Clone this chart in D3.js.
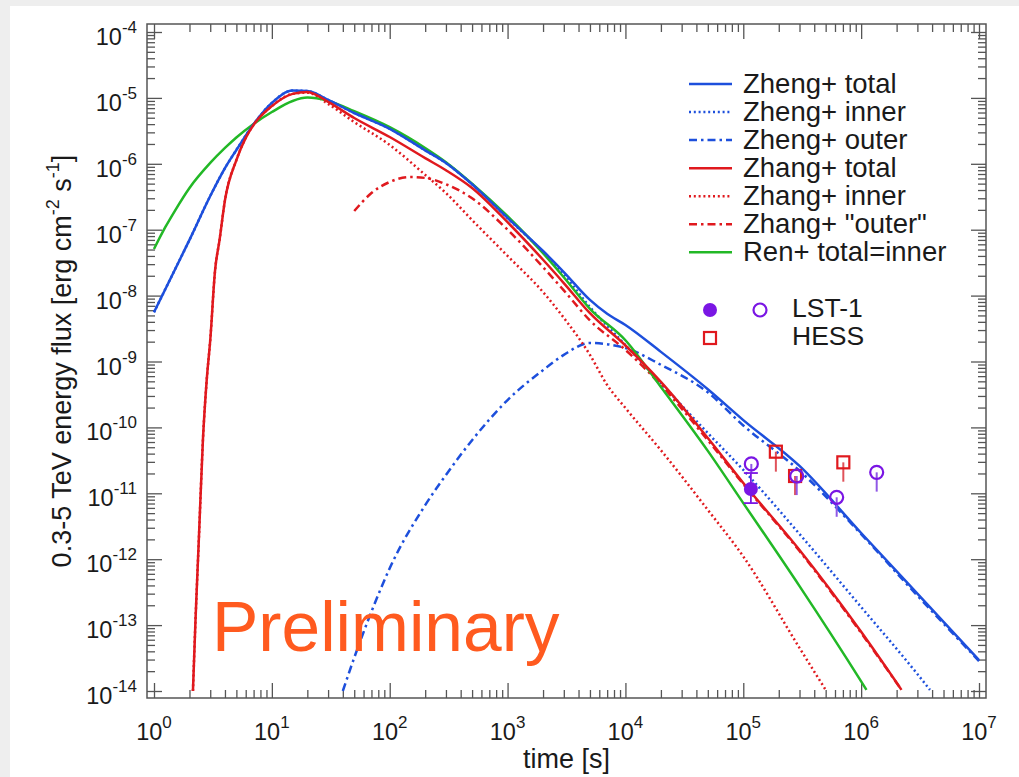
<!DOCTYPE html>
<html lang="en">
<head>
<meta charset="utf-8">
<title>TeV energy flux</title>
<style>
  body { margin: 0; background: #eeeeee; }
  svg { display: block; }
  text { font-family: "Liberation Sans", Arial, sans-serif; fill: #1a1a1a; }
</style>
</head>
<body>
<svg id="chart" width="1019" height="777"></svg>
<script src="https://d3js.org/d3.v7.min.js"></script>
<script>
// model curves, [time s, flux erg cm^-2 s^-1]
const zhengTotal = [[1,5.6e-9],[1.5,2.45e-8],[2,7e-8],[3,3.24e-7],[4,8.6e-7],[5,1.62e-6],[7,4.0e-6],[10,8.4e-6],[15,1.29e-5],[20,1.27e-5],[30,9.3e-6],[50,5.9e-6],[100,3.4e-6],[200,1.6e-6],[300,1.03e-6],[500,4.9e-7],[1e3,1.51e-7],[2e3,4.75e-8],[3e3,2.28e-8],[5e3,8.6e-9],[7e3,5.3e-9],[1e4,3.58e-9],[2e4,1.4e-9],[5e4,3.8e-10],[1e5,1.29e-10],[3e5,2.6e-11],[1e6,2.5e-12],[3e6,3e-13],[1e7,2.95e-14]]
const zhengInner = [[1,5.6e-9],[1.5,2.45e-8],[2,7e-8],[3,3.24e-7],[4,8.6e-7],[5,1.62e-6],[7,4.0e-6],[10,8.4e-6],[15,1.29e-5],[20,1.27e-5],[30,9.3e-6],[50,5.9e-6],[100,3.4e-6],[200,1.6e-6],[300,1.03e-6],[500,4.9e-7],[1e3,1.5e-7],[2e3,4.6e-8],[3e3,2.1e-8],[5e3,6.7e-9],[1e4,1.78e-9],[2e4,4.7e-10],[5e4,8.2e-11],[1e5,2.26e-11],[3e5,2.41e-12],[1e6,1.88e-13],[3e6,1.81e-14],[3.84e6,1.04e-14]]
const zhengOuter = [[40,1e-14],[50,3.2e-14],[70,1.6e-13],[100,7.3e-13],[200,6.6e-12],[300,1.9e-11],[500,6.4e-11],[1e3,2.6e-10],[2e3,7.4e-10],[3e3,1.26e-9],[5e3,1.91e-9],[1e4,1.6e-9],[2e4,8.9e-10],[5e4,3.4e-10],[1e5,1.07e-10],[3e5,2.2e-11],[1e6,2.4e-12],[3e6,2.8e-13],[1e7,2.85e-14]]
const zhangTotal = [[2.14,1e-14],[2.25,1.2e-13],[2.4,1.95e-12],[2.6,6.4e-11],[2.8,5.2e-10],[3,2.1e-9],[3.3,2.45e-8],[3.6,7e-8],[4,2.8e-7],[5,1.14e-6],[6,2.47e-6],[7,3.9e-6],[10,7.5e-6],[15,1.15e-5],[20,1.23e-5],[30,8.7e-6],[50,4.95e-6],[100,2.55e-6],[200,1.22e-6],[300,8e-7],[500,4.3e-7],[1e3,1.3e-7],[2e3,3.5e-8],[3e3,1.55e-8],[5e3,5.4e-9],[1e4,1.75e-9],[2e4,4.9e-10],[5e4,6.9e-11],[1e5,1.43e-11],[3e5,1.38e-12],[1e6,7.9e-14],[2.2e6,1.04e-14]]
const zhangInner = [[2.14,1e-14],[2.25,1.2e-13],[2.4,1.95e-12],[2.6,6.4e-11],[2.8,5.2e-10],[3,2.1e-9],[3.3,2.45e-8],[3.6,7e-8],[4,2.8e-7],[5,1.14e-6],[6,2.47e-6],[7,3.9e-6],[10,7.5e-6],[15,1.15e-5],[20,1.2e-5],[30,8.1e-6],[50,4.3e-6],[100,1.93e-6],[200,6.8e-7],[300,3.6e-7],[500,1.4e-7],[1e3,4e-8],[2e3,1.13e-8],[3e3,4.6e-9],[5e3,1.26e-9],[7e3,4.4e-10],[1e4,1.97e-10],[2e4,4.5e-11],[5e4,5.6e-12],[1e5,1.1e-12],[3e5,4.5e-14],[5e5,1.04e-14]]
const zhangOuter = [[50,1.92e-7],[70,3.6e-7],[100,5.3e-7],[150,6.3e-7],[200,6.1e-7],[300,4.9e-7],[500,3.0e-7],[1e3,1.0e-7],[2e3,2.7e-8],[3e3,1.2e-8],[5e3,4.2e-9],[1e4,1.5e-9],[2e4,4.4e-10],[5e4,6.4e-11],[1e5,1.38e-11],[3e5,1.33e-12],[1e6,7.6e-14],[2.2e6,1.04e-14]]
const renTotal = [[1,5.1e-8],[1.25,1.1e-7],[1.5,1.92e-7],[2,4.3e-7],[3,1.03e-6],[4,1.74e-6],[5,2.51e-6],[7,4.02e-6],[10,6.1e-6],[15,8.97e-6],[20,1.01e-5],[30,9e-6],[50,6.3e-6],[100,3.6e-6],[200,1.74e-6],[300,1.06e-6],[500,5.0e-7],[1e3,1.6e-7],[2e3,4.4e-8],[3e3,1.9e-8],[5e3,6.3e-9],[1e4,2.1e-9],[2e4,4.1e-10],[5e4,4.4e-11],[1e5,7.1e-12],[3e5,3.9e-13],[1e6,1.4e-14],[1.11e6,1.04e-14]]

// observations
const lstFilledT = [1.16e5], lstFilledF = [1.16e-11], lstFilledLo = [7.1e-12], lstFilledHi = [2.03e-11]
const lstOpenT = [1.17e5, 2.84e5, 6.2e5, 1.355e6]
const lstOpenF = [2.79e-11, 1.83e-11, 8.7e-12, 2.08e-11]
const lstOpenLo = [2.03e-11, 9.4e-12, 4.4e-12, 1.06e-11]
const hessT = [1.89e5, 2.75e5, 7.06e5]
const hessF = [4.28e-11, 1.83e-11, 2.95e-11]
const hessLo = [2.13e-11, 9.4e-12, 1.5e-11]

const xExps = [0,1,2,3,4,5,6,7]
const yExps = [-4,-5,-6,-7,-8,-9,-10,-11,-12,-13,-14]

const BLUE = "#1d4fdc", RED = "#e0191e", GREEN = "#22b826", PURPLE = "#7a16e4"
const DOT = "2,2.8", DASHDOT = "8,4,2.5,4"

const series = [
  {name: "Zheng+ total", data: zhengTotal, color: BLUE, dash: null},
  {name: "Zheng+ inner", data: zhengInner, color: BLUE, dash: DOT},
  {name: "Zheng+ outer", data: zhengOuter, color: BLUE, dash: DASHDOT},
  {name: "Zhang+ total", data: zhangTotal, color: RED, dash: null},
  {name: "Zhang+ inner", data: zhangInner, color: RED, dash: DOT},
  {name: "Zhang+ \"outer\"", data: zhangOuter, color: RED, dash: DASHDOT},
  {name: "Ren+ total=inner", data: renTotal, color: GREEN, dash: null}
]

const svg = d3.select("#chart")
svg.append("rect").attr("width", 1019).attr("height", 777).attr("fill", "#eeeeee")
svg.append("rect").attr("x", 10).attr("y", 6).attr("width", 1009).attr("height", 771).attr("fill", "#fff")

const x = d3.scaleLog().domain([1, 1e7]).range([154, 979])
const y = d3.scaleLog().domain([1e-14, 1e-4]).range([691, 32])
const frame = {left: 147, right: 986, top: 24, bottom: 698}

function minorTicks(lo, hi) {
    let out = []
    for (let e = lo; e < hi; e++)
        for (let k = 2; k <= 9; k++) out.push(k * Math.pow(10, e))
    return out
}
const xMajor = xExps.map(e => Math.pow(10, e))
const yMajor = yExps.map(e => Math.pow(10, e))

function tickSet(axisFn, scale, values, size, tx, ty) {
    svg.append("g")
        .attr("transform", `translate(${tx},${ty})`)
        .call(axisFn(scale).tickValues(values).tickSize(-size).tickFormat(""))
        .call(g => g.select(".domain").remove())
        .selectAll("line").attr("stroke", "#555").attr("stroke-width", 1.3)
}
tickSet(d3.axisBottom, x, xMajor, 15, 0, frame.bottom)
tickSet(d3.axisBottom, x, minorTicks(0, 7), 8, 0, frame.bottom)
tickSet(d3.axisTop, x, xMajor, 15, 0, frame.top)
tickSet(d3.axisTop, x, minorTicks(0, 7), 8, 0, frame.top)
tickSet(d3.axisLeft, y, yMajor, 15, frame.left, 0)
tickSet(d3.axisLeft, y, minorTicks(-14, -4), 8, frame.left, 0)
tickSet(d3.axisRight, y, yMajor, 15, frame.right, 0)
tickSet(d3.axisRight, y, minorTicks(-14, -4), 8, frame.right, 0)

svg.append("rect")
    .attr("x", frame.left).attr("y", frame.top)
    .attr("width", frame.right - frame.left).attr("height", frame.bottom - frame.top)
    .attr("fill", "none").attr("stroke", "#555").attr("stroke-width", 1.5)

// tick labels
xExps.forEach(e => {
    let t = svg.append("text").attr("x", x(Math.pow(10, e))).attr("y", 740)
        .attr("text-anchor", "middle").attr("font-size", 23.5)
    t.append("tspan").text("10")
    t.append("tspan").attr("dy", -12).attr("font-size", 17).text(e)
})
yExps.forEach(e => {
    let t = svg.append("text").attr("x", 137).attr("y", y(Math.pow(10, e)) + 13)
        .attr("text-anchor", "end").attr("font-size", 23.5)
    t.append("tspan").text("10")
    t.append("tspan").attr("dy", -12).attr("font-size", 17).text(e)
})

// axis titles
svg.append("text").attr("x", (frame.left + frame.right) / 2).attr("y", 768)
    .attr("text-anchor", "middle").attr("font-size", 27).text("time [s]")
let yt = svg.append("text").attr("transform", `translate(71,${(frame.top + frame.bottom) / 2}) rotate(-90)`)
    .attr("text-anchor", "middle").attr("font-size", 27)
yt.append("tspan").text("0.3-5 TeV energy flux [erg cm")
yt.append("tspan").attr("dy", -12).attr("font-size", 18).text("-2")
yt.append("tspan").attr("dy", 12).text(" s")
yt.append("tspan").attr("dy", -12).attr("font-size", 18).text("-1")
yt.append("tspan").attr("dy", 12).text("]")

// curves
svg.append("clipPath").attr("id", "plotclip").append("rect")
    .attr("x", frame.left).attr("y", frame.top)
    .attr("width", frame.right - frame.left).attr("height", frame.bottom - frame.top)
const line = d3.line().x(d => x(d[0])).y(d => y(d[1])).curve(d3.curveMonotoneX)
const drawOrder = [2, 1, 5, 4, 6, 0, 3]
drawOrder.forEach(i => {
    let s = series[i]
    svg.append("path").datum(s.data)
        .attr("clip-path", "url(#plotclip)")
        .attr("d", line)
        .attr("fill", "none")
        .attr("stroke", s.color)
        .attr("stroke-width", 2.5)
        .attr("stroke-dasharray", s.dash)
})

// watermark
svg.append("text").attr("x", 212).attr("y", 651)
    .attr("font-family", "'Open Sans', 'Noto Sans', sans-serif")
    .attr("font-size", 69.5).style("fill", "#ff5a1f").text("Preliminary")

// observations
hessT.forEach((t, i) => {
    svg.append("line").attr("x1", x(t)).attr("x2", x(t))
        .attr("y1", y(hessF[i])).attr("y2", y(hessLo[i]))
        .attr("stroke", "#e0525a").attr("stroke-width", 2)
})
lstOpenT.forEach((t, i) => {
    svg.append("line").attr("x1", x(t)).attr("x2", x(t))
        .attr("y1", y(lstOpenF[i])).attr("y2", y(lstOpenLo[i]))
        .attr("stroke", "#9058e6").attr("stroke-width", 2)
})
lstFilledT.forEach((t, i) => {
    let g = svg.append("g").attr("stroke", PURPLE).attr("stroke-width", 1.8)
    g.append("line").attr("x1", x(t)).attr("x2", x(t)).attr("y1", y(lstFilledHi[i])).attr("y2", y(lstFilledLo[i]))
    ;[lstFilledHi[i], lstFilledLo[i]].forEach(v => {
        g.append("line").attr("x1", x(t) - 7).attr("x2", x(t) + 7).attr("y1", y(v)).attr("y2", y(v))
    })
    svg.append("circle").attr("cx", x(t)).attr("cy", y(lstFilledF[i])).attr("r", 7).attr("fill", PURPLE)
})
hessT.forEach((t, i) => {
    svg.append("rect").attr("x", x(t) - 6).attr("y", y(hessF[i]) - 6).attr("width", 12).attr("height", 12)
        .attr("fill", "none").attr("stroke", RED).attr("stroke-width", 2.2)
})
lstOpenT.forEach((t, i) => {
    svg.append("circle").attr("cx", x(t)).attr("cy", y(lstOpenF[i])).attr("r", 6.5)
        .attr("fill", "none").attr("stroke", PURPLE).attr("stroke-width", 2.2)
})

// legend
const legend = svg.append("g")
series.forEach((s, i) => {
    let cy = 84 + i * 28.05
    legend.append("line").attr("x1", 689).attr("x2", 732).attr("y1", cy).attr("y2", cy)
        .attr("stroke", s.color).attr("stroke-width", 2.5).attr("stroke-dasharray", s.dash)
    legend.append("text").attr("x", 743).attr("y", cy + 8.5).attr("font-size", 27.5).text(s.name)
})
legend.append("circle").attr("cx", 710).attr("cy", 310).attr("r", 7).attr("fill", PURPLE)
legend.append("circle").attr("cx", 760).attr("cy", 310).attr("r", 6.5)
    .attr("fill", "none").attr("stroke", PURPLE).attr("stroke-width", 2.2)
legend.append("rect").attr("x", 704).attr("y", 332).attr("width", 12).attr("height", 12)
    .attr("fill", "none").attr("stroke", RED).attr("stroke-width", 2.2)
legend.append("text").attr("x", 792).attr("y", 317).attr("font-size", 26.5).text("LST-1")
legend.append("text").attr("x", 792).attr("y", 345).attr("font-size", 26.5).text("HESS")
</script>
</body>
</html>
